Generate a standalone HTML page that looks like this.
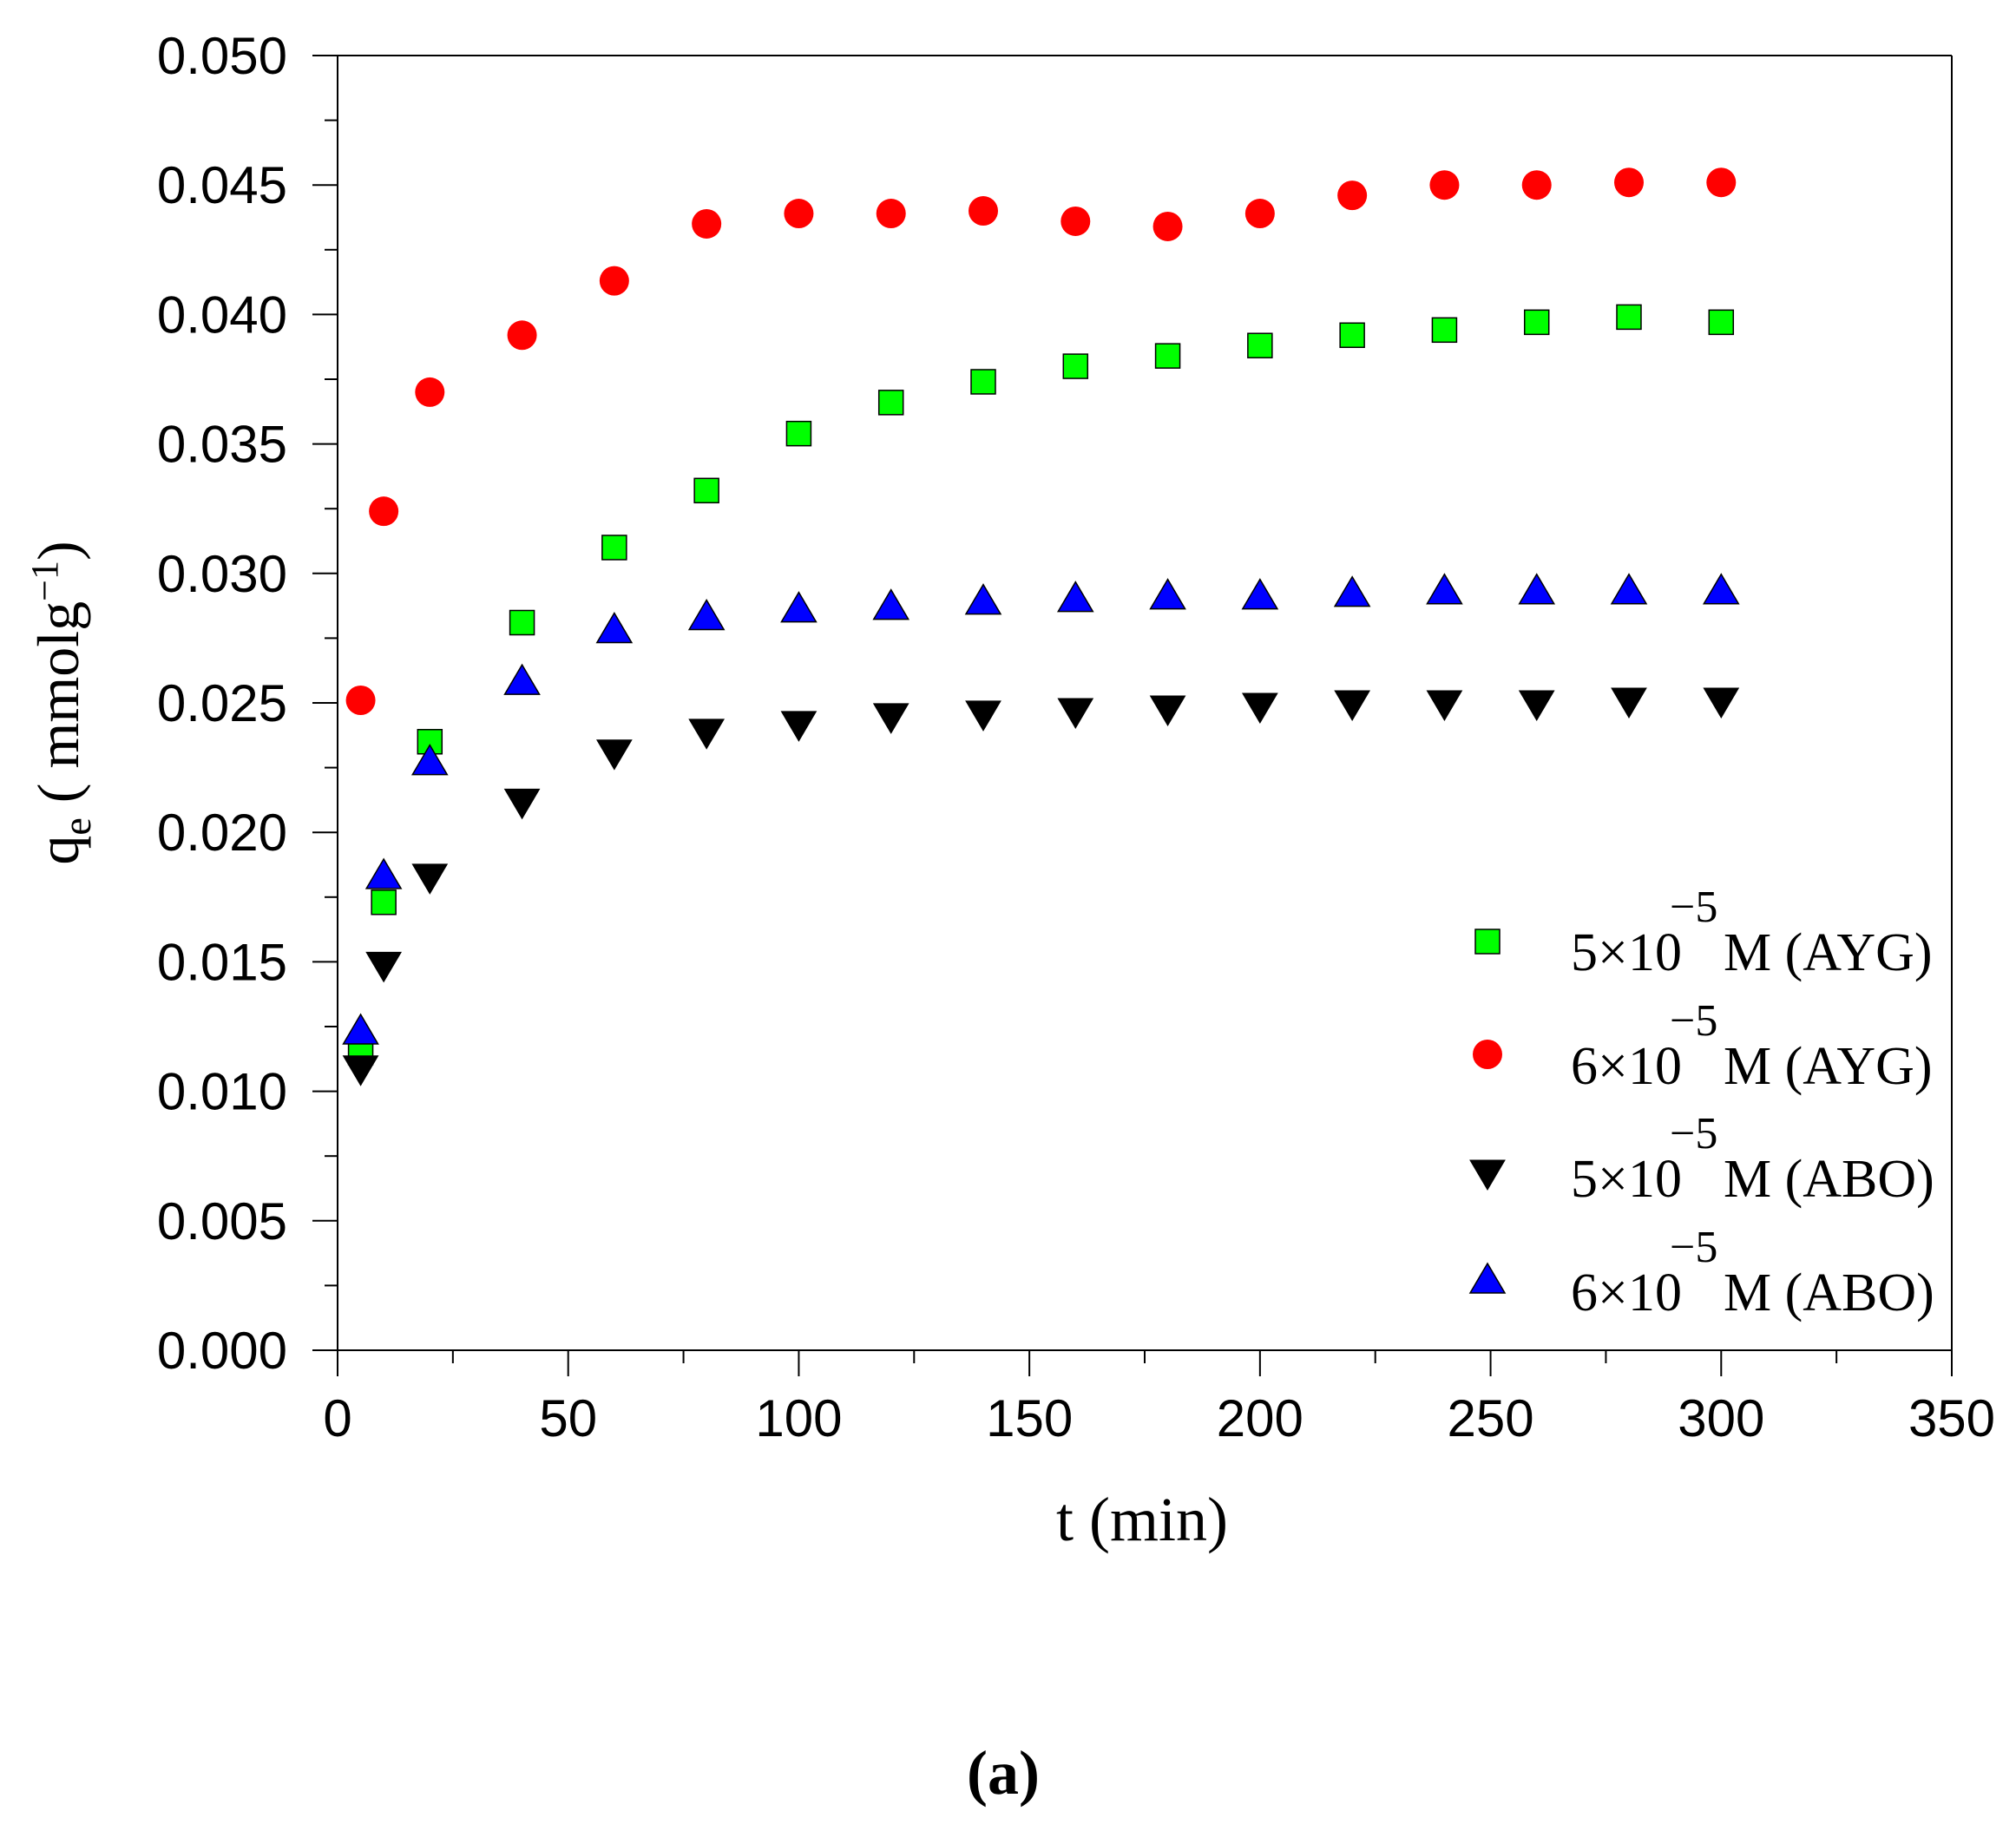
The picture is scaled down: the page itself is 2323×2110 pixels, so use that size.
<!DOCTYPE html>
<html><head><meta charset="utf-8"><style>
html,body{margin:0;padding:0;background:#fff}
svg{display:block}
.tk{font-family:"Liberation Sans",sans-serif;font-size:60px;fill:#000}
.sf{font-family:"Liberation Serif",serif;fill:#000}
</style></head><body>
<svg id="s" width="2323" height="2110" viewBox="0 0 2323 2110" xmlns="http://www.w3.org/2000/svg">
<rect width="2323" height="2110" fill="#fff"/>
<g id="ax" stroke="#000" stroke-width="2" fill="none">
<line x1="389" y1="64" x2="389" y2="1556"/>
<line x1="389" y1="1556" x2="2249" y2="1556"/>
<line x1="389" y1="64" x2="2249" y2="64"/>
<line x1="2249" y1="64" x2="2249" y2="1556"/>
</g>
<g id="tk"></g>
<g id="pts"></g>
<text class="sf" font-size="72" x="1316" y="1775" text-anchor="middle">t (min)</text>
<text class="sf" font-size="72" font-weight="bold" x="1156" y="2067" text-anchor="middle">(a)</text>
<g transform="translate(90,810) rotate(-90)">
<text class="sf" font-size="68" text-anchor="middle">q<tspan font-size="46" dy="14">e</tspan><tspan dy="-14"> ( mmolg</tspan><tspan font-size="44" dy="-24">−1</tspan><tspan dy="24">)</tspan></text>
</g>
<g id="leg"></g>
</svg>
<script>
var NS="http://www.w3.org/2000/svg";
function el(p,n,a,t){var e=document.createElementNS(NS,n);for(var k in a)e.setAttribute(k,a[k]);if(t!=null)e.textContent=t;p.appendChild(e);return e;}
var X=function(t){return 389+t*(2249-389)/350;};
var Y=function(v){return 1556-v*(1556-64)/0.05;};
var tk=document.getElementById('tk');
for(var t=0;t<=350;t+=25){var maj=t%50==0;
 el(tk,'line',{x1:X(t),x2:X(t),y1:1556,y2:maj?1586:1571,stroke:'#000','stroke-width':2});
 if(maj)el(tk,'text',{x:X(t),y:1655,'class':'tk','text-anchor':'middle'},String(t));}
for(var i=0;i<=20;i++){var v=i*0.0025;var maj=i%2==0;
 el(tk,'line',{x1:maj?360:374,x2:389,y1:Y(v),y2:Y(v),stroke:'#000','stroke-width':2});
 if(maj)el(tk,'text',{x:331,y:Y(v)+21,'class':'tk','text-anchor':'end'},v.toFixed(3));}
var T=[5,10,20,40,60,80,100,120,140,160,180,200,220,240,260,280,300];
var red=[0.0251,0.0324,0.0370,0.0392,0.0413,0.0435,0.0439,0.0439,0.0440,0.0436,0.0434,0.0439,0.0446,0.0450,0.0450,0.0451,0.0451];
var green=[0.0115,0.0173,0.0235,0.0281,0.0310,0.0332,0.0354,0.0366,0.0374,0.0380,0.0384,0.0388,0.0392,0.0394,0.0397,0.0399,0.0397];
var blue=[0.0123,0.0183,0.0227,0.0258,0.0278,0.0283,0.0286,0.0287,0.0289,0.0290,0.0291,0.0291,0.0292,0.0293,0.0293,0.0293,0.0293];
var black=[0.0109,0.0149,0.0183,0.0212,0.0231,0.0239,0.0242,0.0245,0.0246,0.0247,0.0248,0.0249,0.0250,0.0250,0.0250,0.0251,0.0251];
var P=document.getElementById('pts');
function sq(g,x,y){el(g,'rect',{x:x-14,y:y-14,width:28,height:28,fill:'#00ff00',stroke:'#000','stroke-width':1.5});}
function ci(g,x,y){el(g,'circle',{cx:x,cy:y,r:17,fill:'#ff0000'});}
function dn(g,x,y){el(g,'polygon',{points:(x-20)+','+(y-14)+' '+(x+20)+','+(y-14)+' '+x+','+(y+20),fill:'#000',stroke:'#000','stroke-width':1});}
function up(g,x,y){el(g,'polygon',{points:(x-20)+','+(y+14)+' '+(x+20)+','+(y+14)+' '+x+','+(y-20),fill:'#0000ff',stroke:'#000','stroke-width':1.5});}
for(var i=0;i<T.length;i++){sq(P,X(T[i]),Y(green[i]));}
for(var i=0;i<T.length;i++){ci(P,X(T[i]),Y(red[i]));}
for(var i=0;i<T.length;i++){dn(P,X(T[i]),Y(black[i]));}
for(var i=0;i<T.length;i++){up(P,X(T[i]),Y(blue[i]));}
var L=document.getElementById('leg');
var rows=[[sq,'5','AYG',1085],[ci,'6','AYG',1215],[dn,'5','ABO',1351],[up,'6','ABO',1476]];
var bases=[1118,1249,1379,1510];
rows.forEach(function(r,i){r[0](L,1714,r[3]);var b=bases[i];
 el(L,'text',{x:1810,y:b,'class':'sf','font-size':62},r[1]+'×10');
 el(L,'text',{x:1924,y:b-56,'class':'sf','font-size':52},'−5');
 el(L,'text',{x:1986,y:b,'class':'sf','font-size':62},'M ('+r[2]+')');});
</script>
</body></html>
